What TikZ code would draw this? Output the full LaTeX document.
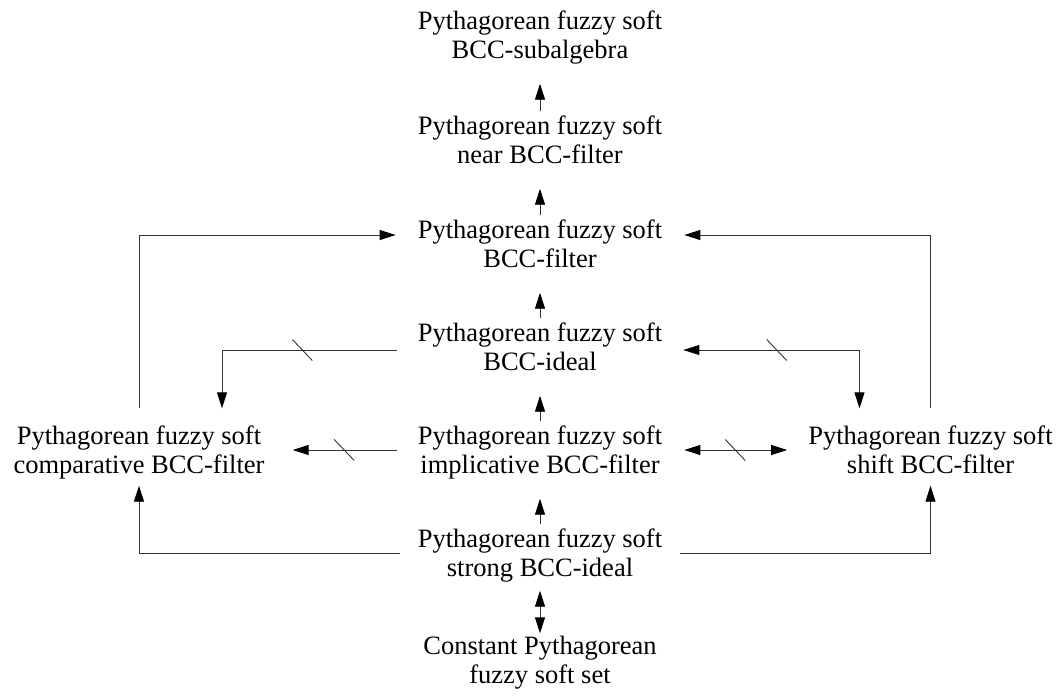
\documentclass[tikz,border=0pt]{standalone}
\usepackage{fontspec}
\setmainfont{Liberation Serif}
\usetikzlibrary{arrows.meta,calc}
\newcommand{\twol}[2]{\strut #1\\\strut #2}
\begin{document}
\begin{tikzpicture}[x=1pt,y=1pt,
  lbl/.style={inner sep=0pt, align=center, font=\fontsize{26.5}{29.5}\selectfont},
  conn/.style={line width=0.9pt, draw=black!80},
  tip/.tip={Triangle[length=16pt,width=10pt,color=black]},
  arr/.style={conn,-tip},
  darr/.style={conn,tip-tip},
  slashline/.style={line width=0.9pt, draw=black!80}]
\useasboundingbox (0,0) rectangle (1063,-697);

\node[lbl] (sub)    at (540,-38)  {\twol{Pythagorean fuzzy soft}{BCC-subalgebra}};
\node[lbl] (near)   at (540,-143) {\twol{Pythagorean fuzzy soft}{near BCC-filter}};
\node[lbl] (filter) at (540,-247) {\twol{Pythagorean fuzzy soft}{BCC-filter}};
\node[lbl] (ideal)  at (540,-350) {\twol{Pythagorean fuzzy soft}{BCC-ideal}};
\node[lbl] (impl)   at (540,-453) {\twol{Pythagorean fuzzy soft}{implicative BCC-filter}};
\node[lbl] (strong) at (540,-556) {\twol{Pythagorean fuzzy soft}{strong BCC-ideal}};
\node[lbl] (const)  at (540,-663) {\twol{Constant Pythagorean}{fuzzy soft set}};
\node[lbl] (comp)   at (139,-453) {\twol{Pythagorean fuzzy soft}{comparative BCC-filter}};
\node[lbl] (shift)  at (930.5,-453) {\twol{Pythagorean fuzzy soft}{shift BCC-filter}};

% vertical chain
\draw[arr, shorten <=2pt, shorten >=16pt] (near) -- (sub);
\draw[arr, shorten <=2pt, shorten >=16pt] (filter) -- (near);
\draw[arr, shorten <=2pt, shorten >=16pt] (ideal) -- (filter);
\draw[arr, shorten <=2pt, shorten >=16pt] (impl) -- (ideal);
\draw[arr, shorten <=2pt, shorten >=16pt] (strong) -- (impl);
\draw[darr, shorten <=5pt] (strong) -- (const);

% side to BCC-filter
\draw[arr] ([yshift=15pt]comp.north) |- ([xshift=-22pt,yshift=12pt]filter.west);
\draw[arr] ([yshift=15pt]shift.north) |- ([xshift=22pt,yshift=12pt]filter.east);

% BCC-ideal to sides
\draw[arr] ([xshift=-21pt]ideal.west) -| coordinate[pos=0.27] (s1) ([xshift=83pt,yshift=15pt]comp.north);
\draw[darr] ([xshift=21pt]ideal.east) -| coordinate[pos=0.265] (s2) ([xshift=-71pt,yshift=15pt]shift.north);

% implicative to sides
\draw[arr, shorten <=21pt, shorten >=28pt] ([yshift=3pt]impl.west) -- coordinate[pos=0.48] (s3) ([yshift=3pt]comp.east);
\draw[darr, shorten <=22pt, shorten >=21pt] ([yshift=3pt]impl.east) -- coordinate[pos=0.5] (s4) ([yshift=3pt]shift.west);

% strong to sides
\draw[arr] ([xshift=-18pt,yshift=3pt]strong.west) -| ([yshift=-3pt]comp.south);
\draw[arr] ([xshift=18pt,yshift=3pt]strong.east) -| ([yshift=-3pt]shift.south);

% slash marks
\foreach \s in {s1,s2,s3,s4}
  \draw[slashline] ([shift={(-10pt,10.5pt)}]\s) -- ([shift={(10pt,-10.5pt)}]\s);
\end{tikzpicture}
\end{document}
